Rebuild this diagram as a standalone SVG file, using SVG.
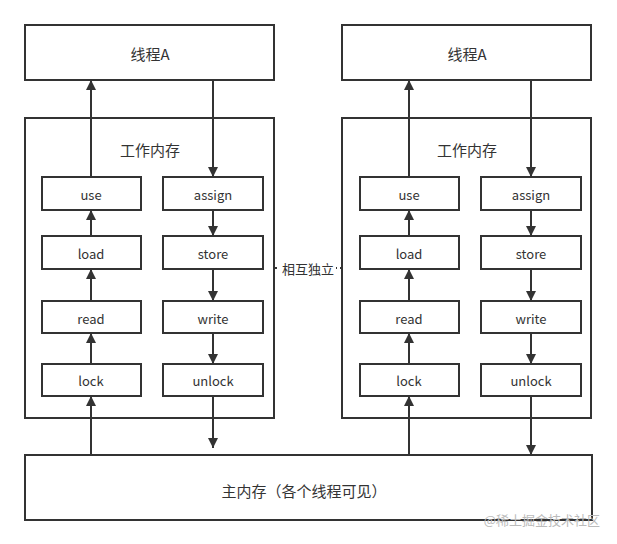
<svg xmlns="http://www.w3.org/2000/svg" width="617" height="544" viewBox="0 0 617 544">
<style>
.b{fill:#fff;stroke:#333;stroke-width:2}
.t{font-family:"Noto Sans CJK SC","Noto Sans",sans-serif;font-size:13px;fill:#333;text-anchor:middle;dominant-baseline:central}
.big{font-size:15px}
.c{stroke:#333;stroke-width:2;fill:none;marker-end:url(#a)}
</style>
<defs><marker id="a" viewBox="0 0 10 10" refX="10" refY="5" markerWidth="5" markerHeight="6" markerUnits="strokeWidth" orient="auto"><path d="M0,0L10,5L0,10Z" fill="#333"/></marker></defs>
<rect width="617" height="544" fill="#fff"/>
<g id="threadL"><rect class="b" x="25" y="25" width="249" height="55"/><text class="t big" x="150" y="53">线程A</text></g>
<g id="threadR"><rect class="b" x="342" y="25" width="249" height="55"/><text class="t big" x="467" y="53">线程A</text></g>
<g id="wmL"><rect class="b" x="25" y="118" width="249" height="300"/><text class="t big" x="150" y="149">工作内存</text></g>
<g id="wmR"><rect class="b" x="342" y="118" width="249" height="300"/><text class="t big" x="467" y="149">工作内存</text></g>
<g id="main"><rect class="b" x="25" y="455" width="567" height="65"/><text class="t big" x="304" y="490">主内存（各个线程可见）</text></g>
<g id="nodesL">
<rect class="b" x="42" y="177" width="99" height="33"/><text class="t" x="91" y="194">use</text>
<rect class="b" x="42" y="236" width="99" height="33"/><text class="t" x="91" y="253">load</text>
<rect class="b" x="42" y="301" width="99" height="32"/><text class="t" x="91" y="318">read</text>
<rect class="b" x="42" y="364" width="99" height="32"/><text class="t" x="91" y="380">lock</text>
<rect class="b" x="163" y="177" width="100" height="33"/><text class="t" x="213" y="194">assign</text>
<rect class="b" x="163" y="236" width="100" height="33"/><text class="t" x="213" y="253">store</text>
<rect class="b" x="163" y="301" width="100" height="32"/><text class="t" x="213" y="318">write</text>
<rect class="b" x="163" y="364" width="100" height="32"/><text class="t" x="213" y="380">unlock</text>
</g>
<g id="nodesR">
<rect class="b" x="360" y="177" width="99" height="33"/><text class="t" x="409" y="194">use</text>
<rect class="b" x="360" y="236" width="99" height="33"/><text class="t" x="409" y="253">load</text>
<rect class="b" x="360" y="301" width="99" height="32"/><text class="t" x="409" y="318">read</text>
<rect class="b" x="360" y="364" width="99" height="32"/><text class="t" x="409" y="380">lock</text>
<rect class="b" x="481" y="177" width="100" height="33"/><text class="t" x="531" y="194">assign</text>
<rect class="b" x="481" y="236" width="100" height="33"/><text class="t" x="531" y="253">store</text>
<rect class="b" x="481" y="301" width="100" height="32"/><text class="t" x="531" y="318">write</text>
<rect class="b" x="481" y="364" width="100" height="32"/><text class="t" x="531" y="380">unlock</text>
</g>
<g id="connectors">
<path class="c" d="M91,455V396"/><path class="c" d="M91,364V333"/><path class="c" d="M91,301V269"/><path class="c" d="M91,236V210"/><path class="c" d="M91,177V80"/>
<path class="c" d="M213,80V177"/><path class="c" d="M213,210V236"/><path class="c" d="M213,269V301"/><path class="c" d="M213,333V364"/><path class="c" d="M213,396V448"/>
<path class="c" d="M409,455V396"/><path class="c" d="M409,364V333"/><path class="c" d="M409,301V269"/><path class="c" d="M409,236V210"/><path class="c" d="M409,177V80"/>
<path class="c" d="M531,80V177"/><path class="c" d="M531,210V236"/><path class="c" d="M531,269V301"/><path class="c" d="M531,333V364"/><path class="c" d="M531,396V455"/>
<path d="M275,268H342" stroke="#333" stroke-width="2" stroke-dasharray="2,3" fill="none"/>
<rect x="280" y="259" width="56" height="18" fill="#fff"/>
<text class="t" x="308" y="268">相互独立</text>
</g>
<text x="600" y="525" style="font-family:'Noto Sans CJK SC',sans-serif;font-size:13px;fill:#bbb;text-anchor:end">@稀土掘金技术社区</text>
</svg>
